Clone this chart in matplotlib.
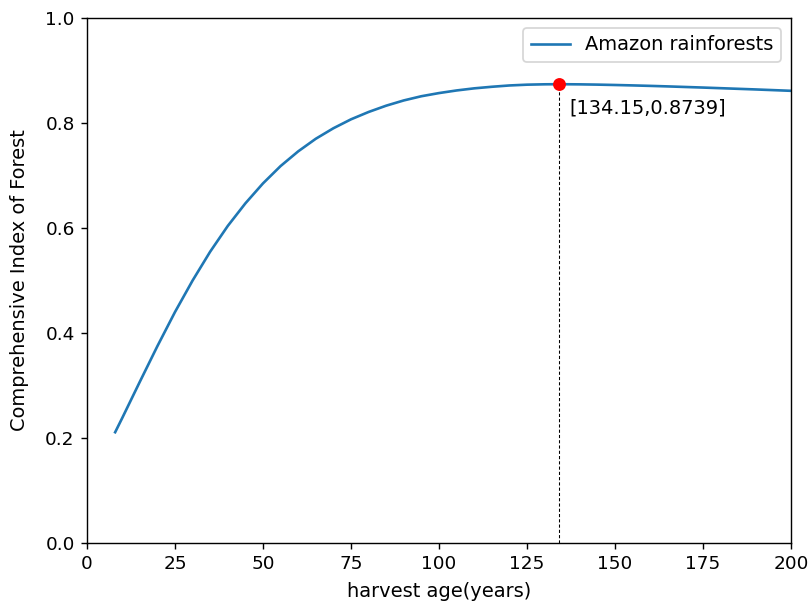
import matplotlib
matplotlib.use("Agg")
import matplotlib.pyplot as plt

# Comprehensive index of the forest against harvest age
harvest_age = [8, 10, 15, 20, 25, 30, 35, 40, 45, 50, 55, 60, 65, 70, 75, 80,
               85, 90, 95, 100, 105, 110, 115, 120, 125, 130, 134.15, 140,
               145, 150, 155, 160, 165, 170, 175, 180, 185, 190, 195, 200]
index_values = [0.211, 0.238, 0.307, 0.375, 0.440, 0.500, 0.555, 0.604,
                0.647, 0.685, 0.718, 0.746, 0.770, 0.790, 0.807, 0.821,
                0.833, 0.843, 0.851, 0.857, 0.862, 0.866, 0.869, 0.8715,
                0.8730, 0.8737, 0.8739, 0.8736, 0.8731, 0.8724, 0.8716,
                0.8707, 0.8697, 0.8686, 0.8675, 0.8663, 0.8651, 0.8639,
                0.8626, 0.8613]
series_label = "Amazon rainforests"
peak_age = 134.15
peak_value = 0.8739

dpi = 126.5
fig = plt.figure(figsize=(811 / dpi, 604 / dpi), dpi=dpi)
ax = fig.add_axes([87 / 811, 1 - 543 / 604, (791 - 87) / 811, (543 - 18) / 604])

ax.plot(harvest_age, index_values, color="#1f77b4", linewidth=1.5, label=series_label)
ax.plot([peak_age, peak_age], [0, peak_value], color="black", linestyle="--",
        linewidth=0.6, dashes=(3, 2))
ax.scatter([peak_age], [peak_value], color="red", s=40, zorder=3)
ax.annotate(f"[{peak_age},{peak_value}]", xy=(peak_age, peak_value),
            xytext=(6, -8), textcoords="offset points", va="top", ha="left",
            fontsize=11)

ax.set_xlim(0, 200)
ax.set_ylim(0, 1.0)
ax.set_xticks([0, 25, 50, 75, 100, 125, 150, 175, 200])
ax.set_yticks([0.0, 0.2, 0.4, 0.6, 0.8, 1.0])
ax.tick_params(labelsize=10.5)
ax.set_xlabel("harvest age(years)", fontsize=11, labelpad=5)
ax.set_ylabel("Comprehensive Index of Forest", fontsize=11, labelpad=9)
ax.legend(loc="upper right", fontsize=11)

fig.savefig("out.png", dpi=dpi)
